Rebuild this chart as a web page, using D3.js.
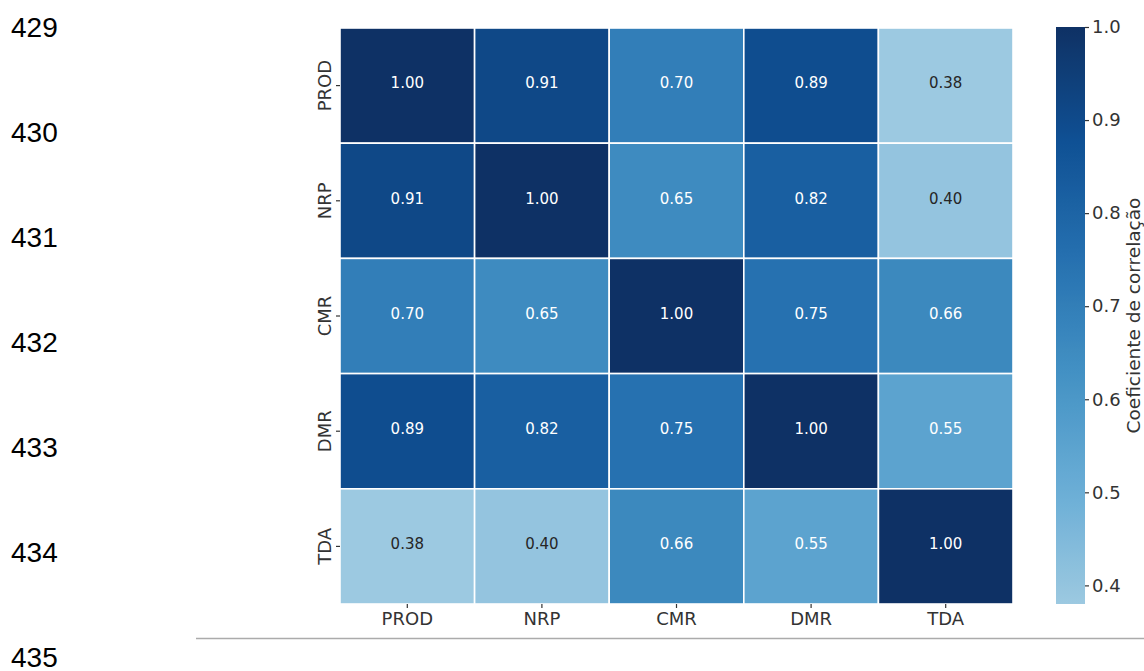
<!DOCTYPE html>
<html>
<head>
<meta charset="utf-8">
<script src="https://cdn.jsdelivr.net/npm/d3@7"></script>
<style>
  html, body { margin: 0; padding: 0; background: #ffffff; }
  svg { display: block; }
</style>
</head>
<body>
<script>
// ---- data ----
const variables = ["PROD", "NRP", "CMR", "DMR", "TDA"];
const rowPROD = [1.00, 0.91, 0.70, 0.89, 0.38];
const rowNRP  = [0.91, 1.00, 0.65, 0.82, 0.40];
const rowCMR  = [0.70, 0.65, 1.00, 0.75, 0.66];
const rowDMR  = [0.89, 0.82, 0.75, 1.00, 0.55];
const rowTDA  = [0.38, 0.40, 0.66, 0.55, 1.00];
const corrRows = [rowPROD, rowNRP, rowCMR, rowDMR, rowTDA];
const colorbarTicks = [0.4, 0.5, 0.6, 0.7, 0.8, 0.9, 1.0];
const colorbarLabel = "Coeficiente de correlação";
const lineNumbers = ["429", "430", "431", "432", "433", "434", "435"];

// matplotlib "Blues" colormap nodes
const bluesNodes = ["#f7fbff", "#deebf7", "#c6dbef", "#9ecae1", "#6baed6", "#4292c6", "#2171b5", "#08519c", "#08306b"];

const W = 1144, H = 671;
const svg = d3.select("body").append("svg").attr("width", W).attr("height", H);

const cells = [];
corrRows.forEach((row, i) => row.forEach((v, j) => cells.push({ r: variables[i], c: variables[j], v })));

const x = d3.scaleBand().domain(variables).range([340, 1013]);
const y = d3.scaleBand().domain(variables).range([28, 604]);
const blues = d3.scaleLinear()
  .domain(bluesNodes.map((_, i) => i / (bluesNodes.length - 1)))
  .range(bluesNodes)
  .interpolate(d3.interpolateRgb)
  .clamp(true);
// slight desaturation of the darker end to match the reference rendering
const color = v => {
  const c = d3.hsl(blues(v));
  c.s *= 1 - 0.13 * Math.max(0, (v - 0.5) / 0.5);
  return c.formatHex();
};

// ---- line numbers (document margin) ----
svg.append("g").selectAll("text").data(lineNumbers).join("text")
  .attr("x", 11)
  .attr("y", (d, i) => 36.7 + i * 105)
  .attr("font-family", "'Liberation Sans', Arial, sans-serif")
  .attr("font-size", 28)
  .attr("fill", "#000")
  .text(d => d);

// separator line
svg.append("line")
  .attr("x1", 196).attr("x2", W)
  .attr("y1", 638.5).attr("y2", 638.5)
  .attr("stroke", "#ababab").attr("stroke-width", 1.5);

// ---- heatmap cells ----
const g = svg.append("g");
g.selectAll("rect").data(cells).join("rect")
  .attr("x", d => x(d.c))
  .attr("y", d => y(d.r))
  .attr("width", x.bandwidth())
  .attr("height", y.bandwidth())
  .attr("fill", d => color(d.v))
  .attr("stroke", "#ffffff")
  .attr("stroke-width", 1.6);

g.selectAll("text").data(cells).join("text")
  .attr("x", d => x(d.c) + x.bandwidth() / 2)
  .attr("y", d => y(d.r) + y.bandwidth() / 2 + 2.8)
  .attr("text-anchor", "middle")
  .attr("font-family", "'DejaVu Sans', sans-serif")
  .attr("font-size", 15)
  .attr("fill", d => d.v < 0.5 ? "#262626" : "#ffffff")
  .text(d => d3.format(".2f")(d.v));

// ---- axes ----
const fontAxis = "'DejaVu Sans', sans-serif";
const xAxis = svg.append("g")
  .attr("transform", `translate(0,604)`)
  .call(d3.axisBottom(x).tickSize(4).tickPadding(4));
xAxis.select(".domain").remove();
xAxis.selectAll("line").attr("stroke", "#333").attr("stroke-width", 1.2);
xAxis.selectAll("text").attr("font-family", fontAxis).attr("font-size", 18).attr("fill", "#333");

const yAxis = svg.append("g")
  .attr("transform", `translate(340,0)`)
  .call(d3.axisLeft(y).tickSize(4));
yAxis.select(".domain").remove();
yAxis.selectAll("line").attr("stroke", "#333").attr("stroke-width", 1.2);
yAxis.selectAll("text")
  .attr("font-family", fontAxis).attr("font-size", 18).attr("fill", "#333")
  .attr("transform", "rotate(-90)")
  .attr("x", 0).attr("y", -9).attr("dy", 0)
  .attr("text-anchor", "middle");

// ---- colorbar ----
const cbX = 1056, cbW = 29;
const cbScale = d3.scaleLinear()
  .domain([d3.min(corrRows.flat()), d3.max(corrRows.flat())])
  .range([604, 27]);
const defs = svg.append("defs");
const grad = defs.append("linearGradient")
  .attr("id", "cbgrad").attr("x1", 0).attr("x2", 0).attr("y1", 1).attr("y2", 0);
const [lo, hi] = cbScale.domain();
d3.range(0, 1.0001, 0.02).forEach(t => {
  grad.append("stop").attr("offset", t).attr("stop-color", color(lo + t * (hi - lo)));
});
svg.append("rect")
  .attr("x", cbX).attr("y", cbScale(hi))
  .attr("width", cbW).attr("height", cbScale(lo) - cbScale(hi))
  .attr("fill", "url(#cbgrad)");

const cbAxis = svg.append("g")
  .attr("transform", `translate(${cbX + cbW},0)`)
  .call(d3.axisRight(cbScale).tickValues(colorbarTicks).tickFormat(d3.format(".1f")).tickSize(4).tickPadding(3));
cbAxis.select(".domain").remove();
cbAxis.selectAll("line").attr("stroke", "#333").attr("stroke-width", 1.2);
cbAxis.selectAll("text").attr("font-family", fontAxis).attr("font-size", 18).attr("fill", "#333");

svg.append("text")
  .attr("transform", `translate(1140,${(cbScale(lo) + cbScale(hi)) / 2}) rotate(-90)`)
  .attr("text-anchor", "middle")
  .attr("font-family", fontAxis)
  .attr("font-size", 18.5)
  .attr("fill", "#333")
  .text(colorbarLabel);
</script>
</body>
</html>
